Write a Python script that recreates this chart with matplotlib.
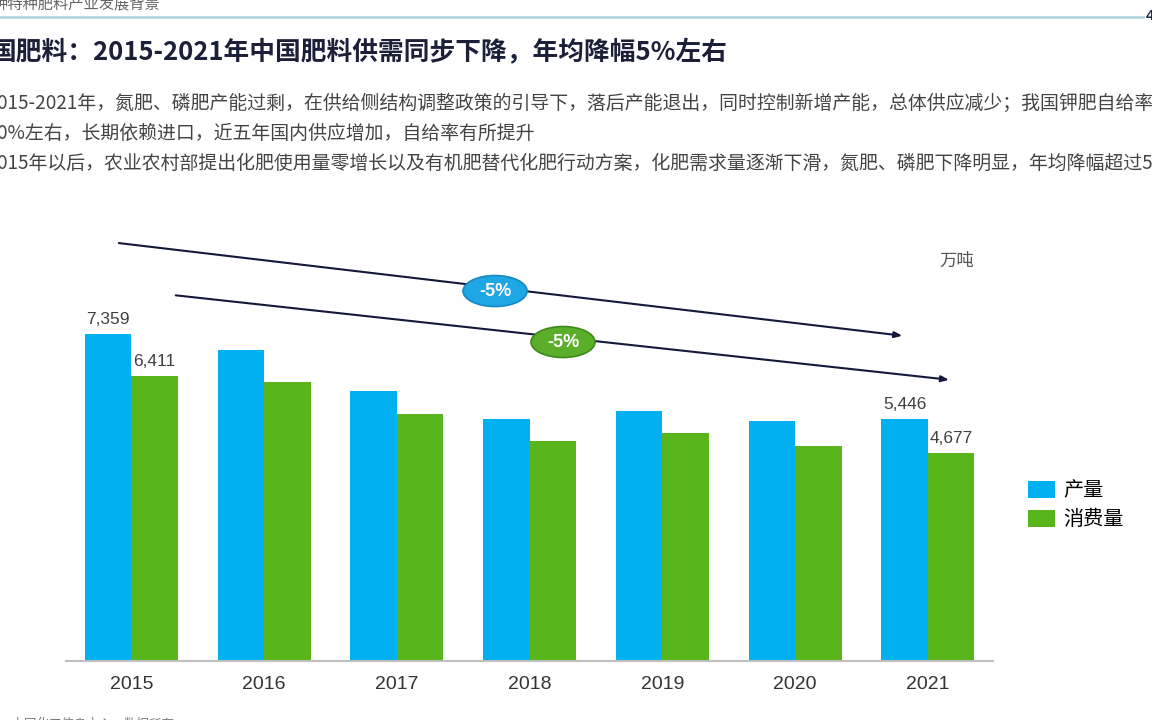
import numpy as np
import matplotlib
matplotlib.use("Agg")
import matplotlib.pyplot as plt
from matplotlib.patches import Ellipse

plt.rcParams['font.family'] = ['Liberation Sans', 'Noto Sans CJK SC', 'DejaVu Sans']

years = ['2015', '2016', '2017', '2018', '2019', '2020', '2021']
production = [7359, 6988, 6074, 5431, 5618, 5400, 5446]
consumption = [6411, 6276, 5543, 4943, 5116, 4838, 4677]
labelled = [0, 6]

title = '国肥料：2015-2021年中国肥料供需同步下降，年均降幅5%左右'
body = [
    '015-2021年，氮肥、磷肥产能过剩，在供给侧结构调整政策的引导下，落后产能退出，同时控制新增产能，总体供应减少；我国钾肥自给率',
    '0%左右，长期依赖进口，近五年国内供应增加，自给率有所提升',
    '015年以后，农业农村部提出化肥使用量零增长以及有机肥替代化肥行动方案，化肥需求量逐渐下滑，氮肥、磷肥下降明显，年均降幅超过5',
]

blue = '#00B0F0'
green = '#58B61C'
cjk = ['Noto Sans CJK SC', 'DejaVu Sans']
W, H = 1152, 720

def fx(px):
    return px / W

def fy(py):
    return 1 - py / H

fig = plt.figure(figsize=(11.52, 7.2), dpi=100)

# slide header
fig.text(fx(-8), fy(4), '钾特种肥料产业发展背景', fontsize=11, color='#666666', va='center', ha='left', family=cjk)
fig.add_artist(plt.Line2D([0, fx(1143)], [fy(17), fy(17)], color='#B4D6DC', lw=2))
fig.text(fx(1146), fy(16), '4', fontsize=11, color='#1a2a4a', va='center', ha='left', fontweight='bold')

fig.text(fx(-10), fy(53), title, fontsize=18.5, fontweight='bold', color='#1b2038',
         va='center', ha='left', family=cjk)
for i, line in enumerate(body):
    fig.text(fx(-3), fy(103 + 30 * i), line, fontsize=13.6, color='#444444', va='center', ha='left',
             family=cjk)

fig.text(fx(0), fy(724), '：中国化工信息中心，数据所有', fontsize=9, color='#777777', va='center', ha='left',
         family=cjk)

# chart
ax = fig.add_axes([fx(66), fy(661), fx(993) - fx(66), 356 / H])
x = np.arange(len(years))
w = 0.35
b1 = ax.bar(x - w / 2, production, w, color=blue, label='产量')
b2 = ax.bar(x + w / 2, consumption, w, color=green, label='消费量')
ax.set_xlim(-0.493, 6.49)
ax.set_ylim(0, 8000)

for i in labelled:
    ax.annotate(f'{production[i]:,}', (x[i] - w / 2, production[i]), xytext=(0, 5),
                textcoords='offset points', ha='center', va='bottom', fontsize=12.5, color='#404040')
    ax.annotate(f'{consumption[i]:,}', (x[i] + w / 2, consumption[i]), xytext=(0, 5),
                textcoords='offset points', ha='center', va='bottom', fontsize=12.5, color='#404040')

for s in ['top', 'right', 'left']:
    ax.spines[s].set_visible(False)
ax.spines['bottom'].set_color('#BFBFBF')
ax.spines['bottom'].set_linewidth(1.5)
ax.set_yticks([])
ax.set_xticks(x)
ax.set_xticklabels(years, fontsize=14, color='#333333')
ax.tick_params(axis='x', length=0, pad=10.5)

# trend arrows with -5% badges
arrows = [
    ((-0.116, 9399), (5.827, 7303), (2.739, 8314), '#1EA7E4', '#1789BF'),
    ((0.313, 8224), (6.179, 6314), (3.251, 7168), '#5AAE2A', '#3E8A1E'),
]
for start, end, mid, fc, ec in arrows:
    ax.annotate('', xy=end, xytext=start, annotation_clip=False,
                arrowprops=dict(arrowstyle='-|>,head_length=0.45,head_width=0.18', color='#15183a', lw=1.5))
    ax.add_patch(Ellipse(mid, 64 / 132.75, 31 * 22.47, fc=fc, ec=ec, lw=1.2, clip_on=False, zorder=4))
    ax.text(mid[0], mid[1], '-5%', ha='center', va='center', fontsize=13, fontweight='bold', color='white',
            clip_on=False, zorder=5)

fig.text(fx(957), fy(261), '万吨', fontsize=12.5, color='#555555', ha='center', va='center', family=cjk)

fig.legend(handles=[b1, b2], loc='upper left', bbox_to_anchor=(fx(1010), fy(462)), frameon=False,
           handlelength=1.35, handleheight=0.95, labelspacing=0.4, handletextpad=0.4,
           prop={'family': cjk, 'size': 14.5})

fig.savefig('out.png', dpi=100)
